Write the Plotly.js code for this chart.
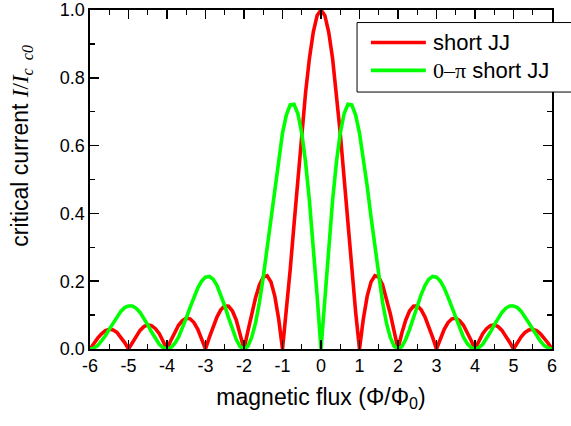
<!DOCTYPE html>
<html>
<head>
<meta charset="utf-8">
<script src="https://cdn.plot.ly/plotly-3.0.1.min.js"></script>
<style>
html,body{margin:0;padding:0;background:#fff;}
#chart{width:571px;height:426px;}
</style>
</head>
<body>
<div id="chart"></div>
<script>
// magnetic flux Φ/Φ0
const flux = [
-6.0,-5.9,-5.8,-5.7,-5.6,-5.5,-5.4,-5.3,-5.2,-5.1,
-5.0,-4.9,-4.8,-4.7,-4.6,-4.5,-4.4,-4.3,-4.2,-4.1,
-4.0,-3.9,-3.8,-3.7,-3.6,-3.5,-3.4,-3.3,-3.2,-3.1,
-3.0,-2.9,-2.8,-2.7,-2.6,-2.5,-2.4,-2.3,-2.2,-2.1,
-2.0,-1.9,-1.8,-1.7,-1.6,-1.5,-1.4,-1.3,-1.2,-1.1,
-1.0,-0.9,-0.8,-0.7,-0.6,-0.5,-0.4,-0.3,-0.2,-0.1,
0.0,
0.1,0.2,0.3,0.4,0.5,0.6,0.7,0.8,0.9,1.0,
1.1,1.2,1.3,1.4,1.5,1.6,1.7,1.8,1.9,2.0,
2.1,2.2,2.3,2.4,2.5,2.6,2.7,2.8,2.9,3.0,
3.1,3.2,3.3,3.4,3.5,3.6,3.7,3.8,3.9,4.0,
4.1,4.2,4.3,4.4,4.5,4.6,4.7,4.8,4.9,5.0,
5.1,5.2,5.3,5.4,5.5,5.6,5.7,5.8,5.9,6.0
];
// critical current, short JJ
const shortJJ = [
0,0.017,0.032,0.045,0.054,0.058,0.056,0.049,0.036,0.019,
0,0.020,0.039,0.055,0.066,0.071,0.069,0.060,0.045,0.024,
0,0.025,0.049,0.070,0.084,0.091,0.089,0.078,0.058,0.032,
0,0.034,0.067,0.095,0.116,0.127,0.126,0.112,0.085,0.047,
0,0.052,0.104,0.151,0.189,0.212,0.216,0.198,0.156,0.089,
0,0.109,0.234,0.368,0.505,0.637,0.757,0.858,0.935,0.984,
1.000,
0.984,0.935,0.858,0.757,0.637,0.505,0.368,0.234,0.109,0,
0.089,0.156,0.198,0.216,0.212,0.189,0.151,0.104,0.052,0,
0.047,0.085,0.112,0.126,0.127,0.116,0.095,0.067,0.034,0,
0.032,0.058,0.078,0.089,0.091,0.084,0.070,0.049,0.025,0,
0.024,0.045,0.060,0.069,0.071,0.066,0.055,0.039,0.020,0,
0.019,0.036,0.049,0.056,0.058,0.054,0.045,0.032,0.017,0
];
// critical current, 0-pi short JJ
const zeroPiJJ = [
0,0.003,0.010,0.023,0.039,0.058,0.077,0.095,0.111,0.122,
0.127,0.127,0.120,0.108,0.091,0.071,0.050,0.031,0.014,0.004,
0,0.004,0.016,0.035,0.061,0.091,0.123,0.153,0.180,0.200,
0.212,0.214,0.206,0.187,0.160,0.127,0.092,0.057,0.028,0.007,
0,0.008,0.034,0.077,0.137,0.212,0.298,0.389,0.480,0.565,
0.637,0.690,0.720,0.722,0.694,0.637,0.550,0.437,0.304,0.156,
0,
0.156,0.304,0.437,0.550,0.637,0.694,0.722,0.720,0.690,0.637,
0.565,0.480,0.389,0.298,0.212,0.137,0.077,0.034,0.008,0,
0.007,0.028,0.057,0.092,0.127,0.160,0.187,0.206,0.214,0.212,
0.200,0.180,0.153,0.123,0.091,0.061,0.035,0.016,0.004,0,
0.004,0.014,0.031,0.050,0.071,0.091,0.108,0.120,0.127,0.127,
0.122,0.111,0.095,0.077,0.058,0.039,0.023,0.010,0.003,0
];
const seriesNames = ['short JJ', '<span style="font-family:\'Liberation Serif\',serif">0\u2013\u03c0</span> short JJ'];
const seriesColors = ['#ff0000', '#00ff00'];
const xTickVals = [-6,-5,-4,-3,-2,-1,0,1,2,3,4,5,6];
const yTickVals = [0,0.2,0.4,0.6,0.8,1.0];

const traces = [
  {x: flux, y: shortJJ, type: 'scatter', mode: 'lines', name: seriesNames[0],
   line: {color: seriesColors[0], width: 3.6}, showlegend: false},
  {x: flux, y: zeroPiJJ, type: 'scatter', mode: 'lines', name: seriesNames[1],
   line: {color: seriesColors[1], width: 3.6}, showlegend: false}
];

const axisCommon = {
  showline: true, linecolor: '#000', linewidth: 1.6,
  mirror: 'allticks', ticks: 'inside', ticklen: 9, tickwidth: 1.6, tickcolor: '#000',
  showgrid: false, zeroline: false,
  tickfont: {family: 'Liberation Sans, Arial, sans-serif', size: 18, color: '#000'}
};

// hand-built legend box (paper coordinates)
const legBox = {x0: 0.578, x1: 1.06, y0: 0.758, y1: 0.963};
const legRows = [0.904, 0.822];
const legLineX = [0.608, 0.727];
const legTextX = 0.738;

const shapes = [
  {type: 'rect', xref: 'paper', yref: 'paper', x0: legBox.x0, x1: legBox.x1, y0: legBox.y0, y1: legBox.y1,
   line: {color: '#000', width: 1}, fillcolor: '#fff', layer: 'above'}
];
const annotations = [];
seriesNames.forEach((nm, i) => {
  shapes.push({type: 'line', xref: 'paper', yref: 'paper', x0: legLineX[0], x1: legLineX[1],
    y0: legRows[i], y1: legRows[i], line: {color: seriesColors[i], width: 3.6}, layer: 'above'});
  annotations.push({xref: 'paper', yref: 'paper', x: legTextX, y: legRows[i], xanchor: 'left', yanchor: 'middle',
    text: nm, showarrow: false, font: {size: 22, family: 'Liberation Sans, Arial, sans-serif', color: '#000'}});
});
annotations.push({
  xref: 'paper', yref: 'paper', x: -0.147, y: 0.6, xanchor: 'center', yanchor: 'middle', textangle: -90,
  showarrow: false,
  text: 'critical current <span style="font-family:\'Liberation Serif\',serif"><i>I</i>/<i>I</i><sub><i>c</i>\u00a0\u00a0<i>c0</i></sub></span>',
  font: {size: 23, family: 'Liberation Sans, Arial, sans-serif', color: '#000'}
});

const layout = {
  width: 571, height: 426,
  margin: {l: 90, r: 19, t: 10, b: 77},
  paper_bgcolor: '#fff', plot_bgcolor: '#fff',
  font: {family: 'Liberation Sans, Arial, sans-serif', color: '#000'},
  xaxis: Object.assign({}, axisCommon, {
    range: [-6, 6], tickvals: xTickVals, ticktext: xTickVals.map(String),
    minor: {dtick: 0.5, ticks: 'inside', ticklen: 5, tickwidth: 1.4, tickcolor: '#000', showgrid: false},
    title: {text: 'magnetic flux (\u03a6/\u03a6<sub>0</sub>)', font: {size: 23}, standoff: 13}
  }),
  yaxis: Object.assign({}, axisCommon, {
    range: [0, 1], tickvals: yTickVals, tickformat: '.1f',
    minor: {dtick: 0.1, ticks: 'inside', ticklen: 5, tickwidth: 1.4, tickcolor: '#000', showgrid: false}
  }),
  showlegend: false,
  shapes: shapes,
  annotations: annotations
};

Plotly.newPlot('chart', traces, layout, {displayModeBar: false, staticPlot: true});
</script>
</body>
</html>
